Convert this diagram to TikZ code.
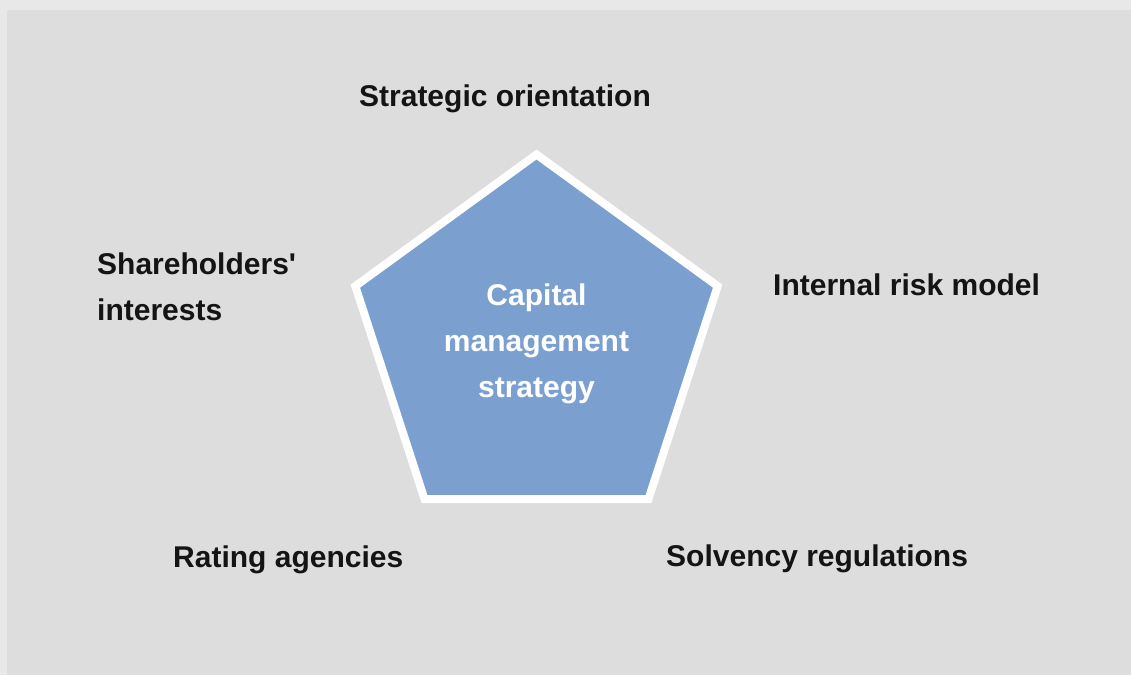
\documentclass[tikz,border=0pt]{standalone}
\usepackage{fontspec}
\setmainfont{Liberation Sans}
\definecolor{frameback}{HTML}{E8E8E8}
\definecolor{panelback}{HTML}{DDDDDD}
\definecolor{pentablue}{HTML}{7BA0D0}
\begin{document}
\begin{tikzpicture}[x=1pt, y=-1pt,
        factor/.style={font=\fontsize{30}{46}\selectfont\bfseries, text=black!92, inner sep=0pt},
        core/.style={factor, text=white, align=center}]
    % background
    \fill[frameback] (0,0) rectangle (1131,675);
    \fill[panelback] (7,10) rectangle (1131,675);
    \useasboundingbox (0,0) rectangle (1131,675);

    % the pentagon
    \coordinate (c) at (536.5,345);
    \draw[white, line width=8pt, fill=pentablue, shift={(c)}]
        (-90:190.5) -- (-18:190.5) -- (54:190.5) -- (126:190.5) -- (198:190.5) -- cycle;

    \node [core, anchor=north] (cms) at (536.5,284) {Capital\\management\\strategy};

    % the five factors
    \node [factor, anchor=base] (so) at (505,106) {Strategic orientation};
    \node [factor, anchor=north west, align=left] (si) at (97,252.5) {Shareholders\textquotesingle\\interests};
    \node [factor, anchor=base west] (irm) at (773,295) {Internal risk model};
    \node [factor, anchor=base west] (ra) at (173,567) {Rating agencies};
    \node [factor, anchor=base west] (sr) at (666,566) {Solvency regulations};
\end{tikzpicture}
\end{document}
